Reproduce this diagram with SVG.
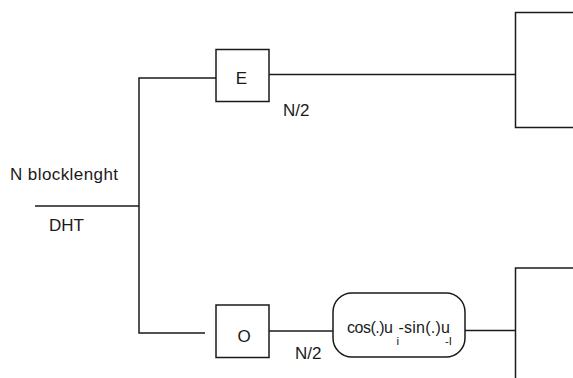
<svg xmlns="http://www.w3.org/2000/svg" width="573" height="378" viewBox="0 0 573 378">
<style>
.ln{fill:none;stroke:#1a1a1a;stroke-width:1.5}
.bx{fill:#ffffff;stroke:#1a1a1a;stroke-width:1.5}
.t{font-family:"Liberation Sans",Arial,sans-serif;font-size:17px;fill:#1a1a1a}
.f{font-family:"Liberation Sans",Arial,sans-serif;font-size:16px;fill:#1a1a1a}
.s{font-family:"Liberation Sans",Arial,sans-serif;font-size:11.5px;fill:#1a1a1a}
</style>
<rect width="573" height="378" fill="#ffffff"/>
<g id="connectors">
<line class="ln" x1="35" y1="206" x2="139" y2="206" stroke-width="2"/>
<polyline class="ln" points="216,78 139,78 139,333 205,333"/>
<line class="ln" x1="269" y1="74.5" x2="515" y2="74.5"/>
<line class="ln" x1="269" y1="331" x2="333" y2="331"/>
<line class="ln" x1="465" y1="330.5" x2="515" y2="330.5"/>
</g>
<g id="input-labels">
<text class="t" x="10" y="180" textLength="108">N blocklenght</text>
<text class="t" x="49" y="231">DHT</text>
</g>
<g id="node-E">
<rect class="bx" x="216" y="49.5" width="53" height="52"/>
<text class="t" x="241.5" y="84" text-anchor="middle">E</text>
<text class="t" x="283" y="116">N/2</text>
</g>
<g id="node-O">
<rect class="bx" x="216" y="305" width="53" height="52.5"/>
<text class="t" x="244" y="341.5" text-anchor="middle">O</text>
<text class="t" x="295" y="359">N/2</text>
</g>
<g id="node-rotation">
<rect class="bx" x="333" y="293" width="132" height="64" rx="19" ry="19"/>
<text class="f" x="347" y="333" textLength="46">cos(.)u</text>
<text class="s" x="396.5" y="345">i</text>
<text class="f" x="398.5" y="333" textLength="51.5">-sin(.)u</text>
<text class="s" x="445" y="345">-I</text>
</g>
<g id="node-top-right">
<polyline class="ln" points="574,12.5 515.5,12.5 515.5,127.5 574,127.5"/>
</g>
<g id="node-bottom-right">
<polyline class="ln" points="574,268 515.5,268 515.5,379" stroke-width="1.8"/>
</g>
</svg>
